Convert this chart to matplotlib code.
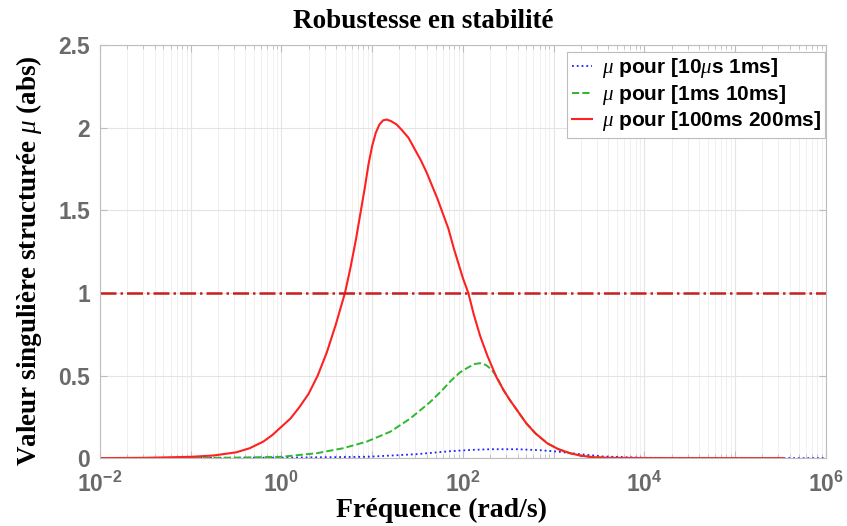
import matplotlib
matplotlib.use("Agg")
import matplotlib.pyplot as plt
import numpy as np
from matplotlib.ticker import FuncFormatter, LogLocator, FixedLocator

plt.rcParams['mathtext.fontset'] = 'custom'
plt.rcParams['mathtext.it'] = 'Liberation Serif:italic'
plt.rcParams['mathtext.bf'] = 'Liberation Sans:bold'
plt.rcParams['mathtext.rm'] = 'Liberation Sans:bold'

# mu curves, frequencies given as log10(rad/s)
red_logw = [-2.0, -1.5, -1.0, -0.75, -0.5, -0.35, -0.2, -0.1, 0.0, 0.1, 0.2, 0.3,
            0.4, 0.5, 0.6, 0.7, 0.76, 0.82, 0.87, 0.92, 0.96, 1.0, 1.04, 1.08,
            1.12, 1.16, 1.21, 1.27, 1.33, 1.40, 1.47, 1.54, 1.60, 1.66, 1.72,
            1.78, 1.84, 1.90, 1.95, 2.0, 2.06, 2.12, 2.19, 2.27, 2.37, 2.45,
            2.52, 2.61, 2.70, 2.80, 2.93, 3.05, 3.18, 3.30, 3.43, 3.6, 3.8,
            4.5, 5.53]
red_mu = [0.0, 0.002, 0.008, 0.016, 0.035, 0.06, 0.10, 0.14, 0.19, 0.24, 0.31, 0.39,
          0.50, 0.64, 0.81, 1.0, 1.15, 1.32, 1.48, 1.64, 1.78, 1.89, 1.97, 2.02,
          2.045, 2.05, 2.04, 2.02, 1.985, 1.94, 1.87, 1.80, 1.73, 1.65, 1.57,
          1.48, 1.39, 1.27, 1.18, 1.09, 1.0, 0.87, 0.74, 0.62, 0.49, 0.41,
          0.35, 0.28, 0.21, 0.15, 0.09, 0.055, 0.03, 0.015, 0.006, 0.002, 0.001,
          0.0, 0.0]

green_logw = [-2.0, -1.0, -0.5, 0.0, 0.39, 0.68, 0.94, 1.2, 1.42, 1.64, 1.77,
              1.87, 1.97, 2.06, 2.13, 2.19, 2.25, 2.31, 2.37, 2.45, 2.52, 2.61,
              2.70, 2.80, 2.93, 3.05, 3.18, 3.30, 3.43, 3.6, 3.8, 4.5, 5.53]
green_mu = [0.0, 0.001, 0.003, 0.008, 0.03, 0.06, 0.10, 0.16, 0.24, 0.34, 0.41,
            0.47, 0.52, 0.55, 0.57, 0.575, 0.565, 0.54, 0.495, 0.41, 0.35, 0.28,
            0.21, 0.15, 0.09, 0.055, 0.03, 0.015, 0.006, 0.002, 0.001, 0.0, 0.0]

blue_logw = [-2.0, 0.0, 0.94, 1.49, 1.857, 2.1, 2.3, 2.6, 2.85, 3.036, 3.29, 3.55,
             4.0, 5.0, 6.0]
blue_mu = [0.0, 0.003, 0.008, 0.024, 0.042, 0.05, 0.054, 0.054, 0.048, 0.04, 0.024,
           0.01, 0.002, 0.0, 0.0]

limit_logw = [-2.0, 6.0]
limit_mu = [1.0, 1.0]

labels = [r'$\mu$ pour [10$\mu$s 1ms]',
          r'$\mu$ pour [1ms 10ms]',
          r'$\mu$ pour [100ms 200ms]']
yticks = [0, 0.5, 1, 1.5, 2, 2.5]
ytick_labels = ['0', '0.5', '1', '1.5', '2', '2.5']

fig = plt.figure(figsize=(8.47, 5.26), dpi=100)
ax = fig.add_axes([0.118, 0.129, 0.857, 0.785])

ax.plot(10 ** np.array(blue_logw), blue_mu, ':', color='#1f1fff', lw=1.3, label=labels[0])
ax.plot(10 ** np.array(green_logw), green_mu, '--', color='#2db82d', lw=1.4, label=labels[1])
ax.plot(10 ** np.array(red_logw), red_mu, '-', color='#ff2020', lw=1.5, label=labels[2])
ax.plot(10 ** np.array(limit_logw), limit_mu, '-.', color='#c81e1e', lw=1.8)

ax.set_xscale('log')
ax.set_xlim(1e-2, 1e6)
ax.set_ylim(0, 2.5)
ax.xaxis.set_major_locator(LogLocator(base=10, numticks=10, subs=(1.0,)))
ax.xaxis.set_major_formatter(FuncFormatter(
    lambda v, p: r'$\mathbf{10^{%d}}$' % round(np.log10(v)) if round(np.log10(v)) % 2 == 0 else ''))
ax.xaxis.set_minor_locator(LogLocator(base=10, subs=np.arange(2, 10), numticks=20))
ax.yaxis.set_major_locator(FixedLocator(yticks))
ax.set_yticklabels(ytick_labels)

ax.grid(True, which='major', color='#e4e4e4', lw=0.8)
ax.grid(True, which='minor', axis='x', color='#f0f0f0', lw=0.7)
ax.set_axisbelow(True)

for s in ax.spines.values():
    s.set_color('#bdbdbd')
    s.set_linewidth(0.8)
ax.tick_params(which='both', direction='in', colors='#bdbdbd', top=True, right=True)
ax.tick_params(which='major', length=5)
ax.tick_params(which='minor', length=3)
ax.tick_params(labelcolor='#6a6a6a', labelsize=16.5)
ax.tick_params(axis='x', pad=10)
ax.tick_params(axis='y', pad=7)
for t in ax.get_yticklabels():
    t.set_fontfamily('Liberation Sans')
    t.set_fontweight('bold')

fig.text(0.5, 0.96, 'Robustesse en stabilité', fontfamily='Liberation Serif',
         fontweight='bold', fontsize=19.5, ha='center', va='center')
ax.set_xlabel('Fréquence (rad/s)', fontfamily='Liberation Serif',
              fontweight='bold', fontsize=20)
ax.xaxis.set_label_coords(0.471, -0.097)
ax.set_ylabel(r'Valeur singulière structurée $\mu$ (abs)', fontfamily='Liberation Serif',
              fontweight='bold', fontsize=19.5)
ax.yaxis.set_label_coords(-0.077, 0.479)

leg = ax.legend(loc='upper right', bbox_to_anchor=(0.999, 0.983),
                prop={'family': 'Liberation Sans', 'weight': 'bold', 'size': 15},
                fancybox=False, framealpha=1, edgecolor='#bdbdbd', handlelength=1.0,
                handletextpad=0.45, borderaxespad=0.0, labelspacing=0.12, borderpad=0.2)
leg.get_frame().set_linewidth(0.8)

fig.savefig('out.png', dpi=100)
